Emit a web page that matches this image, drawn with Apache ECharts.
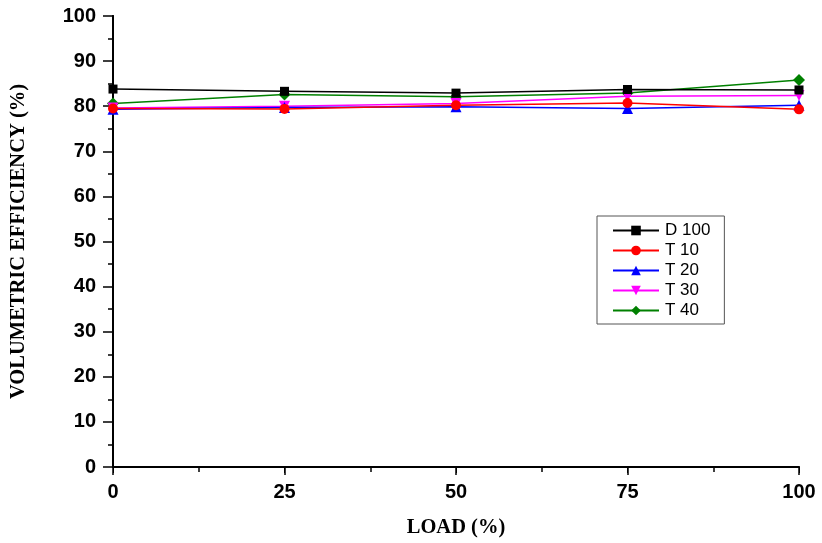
<!DOCTYPE html>
<html>
<head>
<meta charset="utf-8">
<script src="https://cdn.jsdelivr.net/npm/echarts@6/dist/echarts.min.js"></script>
<style>
  html, body { margin: 0; padding: 0; background: #fff; }
  #chart { width: 822px; height: 543px; }
</style>
</head>
<body>
<div id="chart"></div>
<script>
// load points (%)
const loads = [0, 25, 50, 75, 100];

// volumetric efficiency (%) per blend
const d100 = [83.8, 83.3, 82.9, 83.7, 83.6];
const t10 = [79.5, 79.4, 80.2, 80.7, 79.3];
const t20 = [79.3, 79.7, 79.9, 79.5, 80.2];
const t30 = [79.6, 80.0, 80.6, 82.2, 82.4];
const t40 = [80.6, 82.6, 82.1, 82.9, 85.8];

const seriesNames = ['D 100', 'T 10', 'T 20', 'T 30', 'T 40'];
const seriesData = [d100, t10, t20, t30, t40];
const colors = ['#000000', '#ff0000', '#0000ff', '#ff00ff', '#008000'];
const symbols = ['rect', 'circle', 'triangle', 'path://M0,0 L10,0 L5,9 Z', 'diamond'];
const symbolSizes = [9, 10, 11, 11, 12];

const chart = echarts.init(document.getElementById('chart'));

const tickLabel = {
  fontFamily: 'Liberation Sans, Arial, sans-serif',
  fontWeight: 'bold',
  fontSize: 20,
  color: '#000'
};

const titleFont = {
  fontFamily: 'Liberation Serif, Times New Roman, serif',
  fontWeight: 'bold',
  fontSize: 20.5,
  color: '#000'
};

const option = {
  animation: false,
  grid: { left: 113, right: 23, top: 16, bottom: 72 },
  legend: {
    data: seriesNames,
    orient: 'vertical',
    left: 597,
    top: 216,
    borderColor: '#555',
    borderWidth: 1,
    padding: [6, 14, 5, 15],
    itemGap: 3,
    itemWidth: 46,
    itemHeight: 12,
    textStyle: {
      fontFamily: 'Liberation Sans, Arial, sans-serif',
      fontSize: 17,
      lineHeight: 17,
      color: '#000',
      padding: [0, 0, 0, 1]
    }
  },
  xAxis: [
    {
      type: 'value',
      min: 0,
      max: 100,
      interval: 25,
      name: 'LOAD (%)',
      nameLocation: 'middle',
      nameGap: 50,
      nameTextStyle: titleFont,
      axisLine: { show: true, lineStyle: { color: '#000', width: 2 } },
      axisTick: { show: true, length: 8, lineStyle: { color: '#000', width: 1.5 } },
      minorTick: { show: true, splitNumber: 2, length: 5, lineStyle: { color: '#000', width: 1.5 } },
      axisLabel: Object.assign({ margin: 15 }, tickLabel),
      splitLine: { show: false }
    },
    {
      type: 'value',
      position: 'top',
      min: 0,
      max: 100,
      interval: 25,
      axisLine: { show: true, lineStyle: { color: '#000', width: 1.5 } },
      axisTick: { show: true, inside: true, length: 6, lineStyle: { color: '#000' } },
      axisLabel: { show: false },
      splitLine: { show: false }
    }
  ],
  yAxis: [
    {
      type: 'value',
      min: 0,
      max: 100,
      interval: 10,
      name: 'VOLUMETRIC EFFICIENCY (%)',
      nameLocation: 'middle',
      nameGap: 84,
      nameTextStyle: titleFont,
      axisLine: { show: true, lineStyle: { color: '#000', width: 2 } },
      axisTick: { show: true, length: 10, lineStyle: { color: '#000', width: 1.5 } },
      minorTick: { show: true, splitNumber: 2, length: 5, lineStyle: { color: '#000', width: 1.5 } },
      axisLabel: Object.assign({ margin: 17 }, tickLabel),
      splitLine: { show: false }
    },
    {
      type: 'value',
      position: 'right',
      min: 0,
      max: 100,
      interval: 10,
      axisLine: { show: true, lineStyle: { color: '#000', width: 2 } },
      axisTick: { show: true, inside: true, length: 8, lineStyle: { color: '#000', width: 1.5 } },
      minorTick: { show: true, splitNumber: 2, length: 5, lineStyle: { color: '#000', width: 1.5 } },
      axisLabel: { show: false },
      splitLine: { show: false }
    }
  ],
  series: seriesNames.map((name, i) => ({
    name: name,
    type: 'line',
    data: loads.map((x, j) => [x, seriesData[i][j]]),
    symbol: symbols[i],
    symbolSize: symbolSizes[i],
    showAllSymbol: true,
    lineStyle: { color: colors[i], width: 1.5 },
    itemStyle: { color: colors[i] },
    z: 10 - i
  }))
};

chart.setOption(option);
</script>
</body>
</html>
